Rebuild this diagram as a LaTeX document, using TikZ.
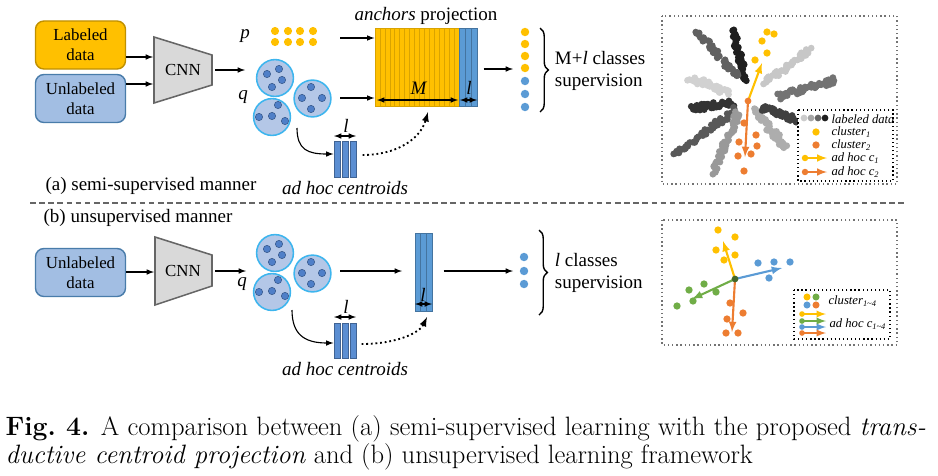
\documentclass[tikz,border=0pt]{standalone}
\usepackage{fontspec}
\newfontfamily\tnr{Liberation Serif}
\usetikzlibrary{positioning,decorations.pathreplacing}
\begin{document}
\begin{tikzpicture}[>=latex,thick,x=0.025cm,y=-0.025cm,
  txt/.style={font=\tnr\fontsize{13.5}{16}\selectfont,inner sep=1pt},
  databox/.style={draw,line width=1pt,rounded corners=6pt,minimum width=2.25cm,minimum height=1.2cm,align=center,font=\tnr\fontsize{12}{14.5}\selectfont},
  clus/.style={circle,fill=cfill,draw=cedge,line width=1.1pt,minimum size=0.92cm,inner sep=0pt},
  bar/.style={fill=mybar,draw=mybar!70!black,line width=0.4pt},
  leg/.style={font=\tnr\itshape\fontsize{9}{10}\selectfont,anchor=west,inner sep=0pt},
  frame/.style={draw=black!55,dotted,line width=1pt}]
\definecolor{myyel}{HTML}{FFC000}
\definecolor{myblu}{HTML}{5B9BD5}
\definecolor{mybar}{HTML}{5B8ED2}
\definecolor{myora}{HTML}{ED7D31}
\definecolor{mygrn}{HTML}{70AD47}
\definecolor{cfill}{HTML}{B4C7E7}
\definecolor{cedge}{HTML}{3DB5EE}
\definecolor{dfill}{HTML}{4F7FC8}
\useasboundingbox (0,0) rectangle (938,475);
% (a) semi-supervised
\node[databox,fill=myyel,draw=myyel!75!black] (lab) at (80.5,45) {Labeled\\data};
\node[databox,fill=cfill!80!myblu,draw=myblu!80!black] (unla) at (80.5,98.5) {Unlabeled\\data};
\draw[fill=black!15,draw=black!60,line width=1.1pt] (154,37) -- (212,55) -- (212,85) -- (154,103) -- cycle;
\node[txt,font=\tnr\fontsize{12}{14}\selectfont] (cnna) at (183,70) {CNN};
\coordinate (ina1) at (153,57);
\coordinate (ina2) at (153,84);
\draw[->] (lab.east |- ina1) -- (ina1);
\draw[->] (unla.east |- ina2) -- (ina2);
\coordinate (fa) at (245,70);
\draw[->] (cnna.east -| 215,70) -- (fa);
\node[txt] (p) at (245,36) {\textit{p}};
\foreach \x in {275,288,300,313}
  \foreach \y in {31,42}
    \fill[myyel] (\x,\y) circle[radius=2.9pt];
% clusters, same in both parts
\foreach \dy/\t in {0/a,175/b}{
  \node[clus] (\t1) at (275,78+\dy) {};
  \node[clus] (\t2) at (312.5,98.5+\dy) {};
  \node[clus] (\t3) at (272,117+\dy) {};
  \foreach \x/\y in {267/74,279/69,282/80,272/87,311/87,302/98,322/98,311/109,278/105,259/117,272/116,285/121}
    \filldraw[fill=dfill,draw=dfill!70!black,line width=0.4pt] (\x,\y+\dy) circle[radius=2.6pt];
}
\node[txt] (q) at (243,97) {\textit{q}};
% anchors projection
\node[inner sep=0pt,minimum width=2.55cm,minimum height=1.95cm] (anca) at (426,67) {};
\foreach \i in {0,...,16}
  \draw[fill=myyel,draw=myyel!85!black,line width=0.4pt] (375+\i*4.94,28) rectangle ++(4.94,78);
\foreach \i in {0,1,2}
  \draw[fill=myblu,draw=myblu!75!black,line width=0.4pt] (459+\i*6,28) rectangle ++(6,78);
\node[txt,above=1pt of anca] (anct) {\textit{anchors} projection};
\coordinate (pa) at (340,38);
\coordinate (qa) at (340,98);
\draw[->] (pa) -- (pa -| anca.west);
\draw[->] (qa) -- (qa -| anca.west);
\draw[<->] (377,100) -- (458,100);
\node[txt] (ma) at (419,88) {\textit{M}};
\draw[<->] (460,100) -- (477,100);
\node[txt] (la) at (469,88) {\textit{l}};
\coordinate (oa) at (513,69);
\draw[->] (anca.east |- oa) ++(6,0) -- (oa);
\foreach \y/\c in {32/myyel,44/myyel,56/myyel,68/myyel,81/myblu,94/myblu,107/myblu}
  \fill[\c] (525,\y) circle[radius=3pt];
\draw[decorate,decoration={brace,amplitude=6pt},line width=1pt] (540,28) -- (540,112);
\node[txt,anchor=west,align=left] (supa) at (553,71) {M+\textit{l} classes\\supervision};
% ad hoc centroids (a)
\node[inner sep=0pt,minimum width=0.55cm,minimum height=0.9cm] (hca) at (345,159) {};
\foreach \x in {334,342,350}
  \draw[bar] (\x,141) rectangle ++(6,36);
\draw[<->] (334,136) -- (356,136);
\node[txt] (lha) at (346,126) {\textit{l}};
\node[txt,below=1pt of hca] (hcta) {\textit{ad hoc centroids}};
\coordinate (sa) at (297,128);
\draw[->] (sa) .. controls (297,150) and (308,154) .. (hca.west |- 0,154);
\draw[->,dotted,line width=1.3pt] (hca.east |- 0,155) ++(6,0) .. controls (395,155) and (420,140) .. (428,112);
\node[txt] (capa) at (151,186) {(a) semi-supervised manner};
% separator
\draw[dashed,black!60,line width=1pt,dash pattern=on 4pt off 2.5pt] (30,203) -- (905,203);
% (b) unsupervised
\node[txt] (capb) at (138,218) {(b) unsupervised manner};
\node[databox,fill=cfill!80!myblu,draw=myblu!80!black] (unlb) at (80.5,272.5) {Unlabeled\\data};
\draw[fill=black!15,draw=black!60,line width=1.1pt] (155,237) -- (212,255) -- (212,286) -- (155,305) -- cycle;
\node[txt,font=\tnr\fontsize{12}{14}\selectfont] (cnnb) at (183,271) {CNN};
\coordinate (inb) at (154,272);
\draw[->] (unlb.east |- inb) -- (inb);
\coordinate (fb) at (246,271);
\draw[->] (cnnb.east -| 215,271) -- (fb);
\node[txt] (qb) at (242,284) {\textit{q}};
\node[inner sep=0pt,minimum width=0.425cm,minimum height=1.95cm] (ancb) at (423.5,272) {};
\foreach \i in {0,1,2}
  \draw[fill=myblu,draw=myblu!75!black,line width=0.4pt] (415+\i*5.67,233) rectangle ++(5.67,78);
\coordinate (qbo) at (340,271);
\coordinate (qbe) at (402,271);
\draw[->] (qbo) -- (qbe);
\draw[<->] (415,304) -- (432,304);
\node[txt] (lb) at (423,295) {\textit{l}};
\coordinate (ob) at (513,271);
\draw[->] (ancb.east |- ob) ++(11,0) -- (ob);
\foreach \y in {257,271,284}
  \fill[myblu] (524,\y) circle[radius=3pt];
\draw[decorate,decoration={brace,amplitude=6pt},line width=1pt] (539,230) -- (539,315);
\node[txt,anchor=west,align=left] (supb) at (553,273) {\textit{l} classes\\supervision};
\node[inner sep=0pt,minimum width=0.55cm,minimum height=0.875cm] (hcb) at (345,340.5) {};
\foreach \x in {334,342,350}
  \draw[bar] (\x,323) rectangle ++(6,35);
\draw[<->] (334,317) -- (356,317);
\node[txt] (lhb) at (346,307) {\textit{l}};
\node[txt,below=1pt of hcb] (hctb) {\textit{ad hoc centroids}};
\coordinate (sb) at (292,310);
\draw[->] (sb) .. controls (292,334) and (304,343) .. (hcb.west |- 0,343);
\draw[->,dotted,line width=1.3pt] (hcb.east |- 0,344) ++(5,0) .. controls (398,344) and (420,332) .. (427,317);
% scatter (a)
\draw[frame] (662,16) rectangle (897,184);
\pgfmathsetseed{7}
\foreach \xa/\ya/\xb/\yb/\g in {733/30/745/80/88,698/33/738/77/62,690/78/728/92/18,693/108/732/103/80,675/155/735/110/65,713/173/738/113/40,785/147/755/110/32,795/120/762/107/75,835/80/778/97/55,810/50/765/83/22}
  \foreach \k in {0,...,44}{
    \pgfmathsetmacro\px{\xa+(\xb-\xa)*\k/44+2.8*rand}
    \pgfmathsetmacro\py{\ya+(\yb-\ya)*\k/44+2.8*rand}
    \fill[black!\g] (\px,\py) circle[radius=2.4pt];
  }
\foreach \x/\y in {767/32,774/34,762/41,767/53,755/60}
  \fill[myyel] (\x,\y) circle[radius=2.6pt];
\foreach \x/\y in {744/123,756/135,739/142,757/146,738/156,751/154,744/171}
  \fill[myora] (\x,\y) circle[radius=2.6pt];
\coordinate (ca) at (748,101);
\draw[->,myyel,line width=1.5pt] (ca) -- (762,63);
\draw[->,myora,line width=1.5pt] (ca) -- (745,157);
\fill[myora] (ca) circle[radius=2.4pt];
\draw[dotted,line width=0.9pt,fill=white] (798,110) rectangle (893,181);
\foreach \x/\g in {804/20,811/35,818/60,825/88}
  \fill[black!\g] (\x,118) circle[radius=2.4pt];
\node[leg] (lga) at (831,119) {labeled data};
\fill[myyel] (816,132) circle[radius=2.6pt];
\node[leg] (lgb) at (831,132) {cluster\textsubscript{1}};
\fill[myora] (816,145) circle[radius=2.6pt];
\node[leg] (lgc) at (831,145) {cluster\textsubscript{2}};
\draw[->,myyel,line width=1.4pt] (805,158) -- (827,158);
\fill[myyel] (805,158) circle[radius=2.3pt];
\node[leg] (lgd) at (831,158) {ad hoc c\textsubscript{1}};
\draw[->,myora,line width=1.4pt] (805,172) -- (827,172);
\fill[myora] (805,172) circle[radius=2.3pt];
\node[leg] (lge) at (831,172) {ad hoc c\textsubscript{2}};
% scatter (b)
\draw[frame] (662,220) rectangle (897,345);
\foreach \x/\y in {718/230,735/237,716/250,735/255,724/260}
  \fill[myyel] (\x,\y) circle[radius=2.6pt];
\foreach \x/\y in {758/263,774/262,790/262,769/278}
  \fill[myblu] (\x,\y) circle[radius=2.6pt];
\foreach \x/\y in {704/284,689/290,716/292,693/301,677/306}
  \fill[mygrn] (\x,\y) circle[radius=2.6pt];
\foreach \x/\y in {730/303,743/313,727/319,726/333,738/333}
  \fill[myora] (\x,\y) circle[radius=2.6pt];
\coordinate (cb) at (735,279);
\draw[->,myyel,line width=1.5pt] (cb) -- (723,241);
\draw[->,myblu,line width=1.5pt] (cb) -- (782,268);
\draw[->,mygrn,line width=1.5pt] (cb) -- (692,299);
\draw[->,myora,line width=1.5pt] (cb) -- (732,332);
\fill[mygrn!60!black] (cb) circle[radius=2.4pt];
\draw[dotted,line width=0.9pt,fill=white] (794,290) rectangle (890,339);
\fill[myyel] (807,297) circle[radius=2.5pt];
\fill[mygrn] (816,297) circle[radius=2.5pt];
\fill[myblu] (807,305) circle[radius=2.5pt];
\fill[myora] (816,305) circle[radius=2.5pt];
\node[leg] (lgf) at (828,301) {cluster\textsubscript{1\textasciitilde4}};
\foreach \y/\c in {314/myyel,321/mygrn,327/myblu,333/myora}{
  \draw[->,\c,line width=1.3pt] (802,\y) -- (826,\y);
  \fill[\c] (802,\y) circle[radius=2pt];
}
\node[leg] (lgg) at (829,324) {ad hoc c\textsubscript{1\textasciitilde4}};
% caption
\node[anchor=north west,text width=23cm,align=justify,inner sep=0pt,font=\fontsize{18.9}{20}\selectfont] (capt) at (5,415) {\textbf{Fig.\ 4.} A comparison between (a) semi-supervised learning with the proposed \emph{trans-}\linebreak\emph{ductive centroid projection} and (b) unsupervised learning framework};
\end{tikzpicture}
\end{document}
